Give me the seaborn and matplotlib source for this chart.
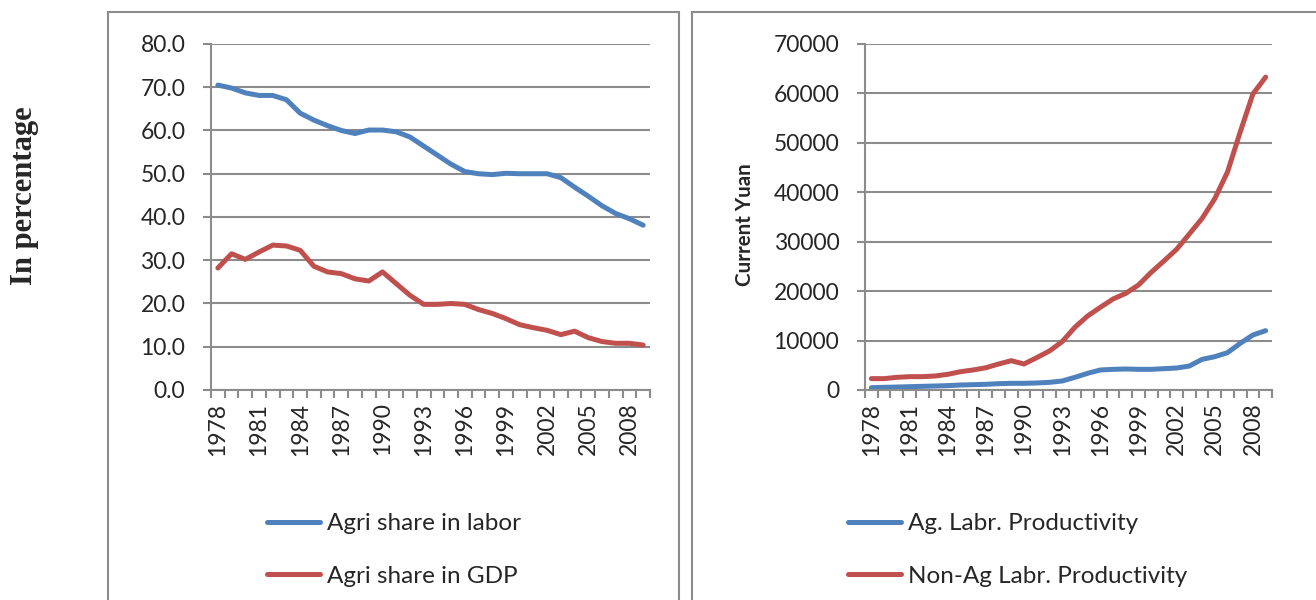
import seaborn as sns
import matplotlib.pyplot as plt
import matplotlib.ticker as mticker
from matplotlib.patches import Rectangle
import pandas as pd

# Data
years = list(range(1978, 2010))

agri_labor = [70.5, 69.8, 68.7, 68.1, 68.1, 67.1, 64.0, 62.4, 61.1, 60.0,
              59.3, 60.1, 60.1, 59.7, 58.5, 56.4, 54.3, 52.2, 50.5, 50.0,
              49.8, 50.1, 50.0, 50.0, 50.0, 49.1, 46.9, 44.8, 42.6, 40.8,
              39.6, 38.1]
agri_gdp = [28.2, 31.5, 30.2, 31.9, 33.5, 33.3, 32.3, 28.6, 27.3, 26.9,
            25.7, 25.2, 27.3, 24.6, 21.9, 19.8, 19.8, 20.0, 19.8, 18.6,
            17.7, 16.5, 15.1, 14.4, 13.8, 12.8, 13.6, 12.1, 11.2, 10.8,
            10.8, 10.4]

ag_prod = [470, 540, 600, 670, 740, 810, 880, 1010, 1080, 1150,
           1280, 1350, 1350, 1420, 1550, 1820, 2560, 3370, 4050, 4180,
           4250, 4180, 4180, 4320, 4450, 4850, 6200, 6740, 7550, 9440,
           11130, 12000]
nonag_prod = [2300, 2300, 2560, 2700, 2700, 2830, 3170, 3700, 4050, 4500,
              5260, 5930, 5260, 6540, 7890, 9780, 12680, 14970, 16720, 18410,
              19550, 21240, 23800, 26100, 28460, 31560, 34700, 38700, 44100, 52200,
              59900, 63300]

left_names = ['Agri share in labor', 'Agri share in GDP']
right_names = ['Ag. Labr. Productivity', 'Non-Ag Labr. Productivity']
blue, red = '#4F81BD', '#C0504D'
grid_gray = '#8c8c8c'

df_left = pd.DataFrame({'Year': years * 2,
                        'Value': agri_labor + agri_gdp,
                        'Series': [left_names[0]] * 32 + [left_names[1]] * 32})
df_right = pd.DataFrame({'Year': years * 2,
                         'Value': ag_prod + nonag_prod,
                         'Series': [right_names[0]] * 32 + [right_names[1]] * 32})

sns.set_style('white')
plt.rcParams['font.family'] = ['Lato', 'DejaVu Sans']

fig = plt.figure(figsize=(13.16, 6), dpi=100)

# panel frames
fig.patches.append(Rectangle((108 / 1316, -0.05), 571 / 1316, 1.05 - 12 / 600,
                             transform=fig.transFigure, fill=False,
                             edgecolor=grid_gray, lw=1.5))
fig.patches.append(Rectangle((692 / 1316, -0.05), 700 / 1316, 1.05 - 12 / 600,
                             transform=fig.transFigure, fill=False,
                             edgecolor=grid_gray, lw=1.5))

ax1 = fig.add_axes([211 / 1316, 0.35, 439 / 1316, 0.9267 - 0.35])
ax2 = fig.add_axes([865 / 1316, 0.35, 407 / 1316, 0.9267 - 0.35])

panels = [(ax1, df_left, left_names, (0, 80), 10, '%.1f', 267),
          (ax2, df_right, right_names, (0, 70000), 10000, '%d', 848)]

for ax, df, names, ylim, step, fmt, leg_x in panels:
    sns.lineplot(data=df, x='Year', y='Value', hue='Series', hue_order=names,
                 palette=[blue, red], lw=3.6, ax=ax,
                 solid_capstyle='round', solid_joinstyle='round')
    ax.set_xlim(years[0] - 0.5, years[-1] + 0.5)
    ax.set_ylim(*ylim)
    ax.yaxis.set_major_locator(mticker.MultipleLocator(step))
    ax.yaxis.set_major_formatter(mticker.FormatStrFormatter(fmt))
    ax.set_xticks(years[::3])
    ax.set_xticklabels([str(y) for y in years[::3]], rotation=90)
    ax.set_xticks([y - 0.5 for y in years] + [years[-1] + 0.5], minor=True)
    ax.tick_params(axis='x', which='major', length=0, pad=9, labelsize=16.5)
    ax.tick_params(axis='x', which='minor', direction='out', length=5.5,
                   width=1.5, color=grid_gray, bottom=True)
    ax.tick_params(axis='y', direction='out', length=6, width=1.5,
                   color=grid_gray, left=True, pad=12.5, labelsize=16.5)
    ax.yaxis.grid(True, color=grid_gray, lw=1.5)
    ax.set_axisbelow(True)
    for s in ['top', 'right']:
        ax.spines[s].set_visible(False)
    for s in ['left', 'bottom']:
        ax.spines[s].set_color(grid_gray)
        ax.spines[s].set_linewidth(1.5)
    ax.set_xlabel('')
    ax.set_ylabel('')
    ax.legend(loc='upper left', bbox_to_anchor=(leg_x / 1316, 1 - 513 / 600),
              bbox_transform=fig.transFigure, frameon=False, fontsize=17.5,
              handlelength=2.2, handletextpad=0.25, labelspacing=1.3,
              borderpad=0, borderaxespad=0)

fig.text(25 / 1316, 1 - 196 / 600, 'In percentage', rotation=90,
         ha='center', va='center', fontsize=22, fontweight='bold',
         family=['Liberation Serif', 'DejaVu Serif'])
fig.text(745 / 1316, 1 - 225 / 600, 'Current Yuan', rotation=90,
         ha='center', va='center', fontsize=14.8, fontweight='bold')

plt.savefig('out.png', dpi=100)
